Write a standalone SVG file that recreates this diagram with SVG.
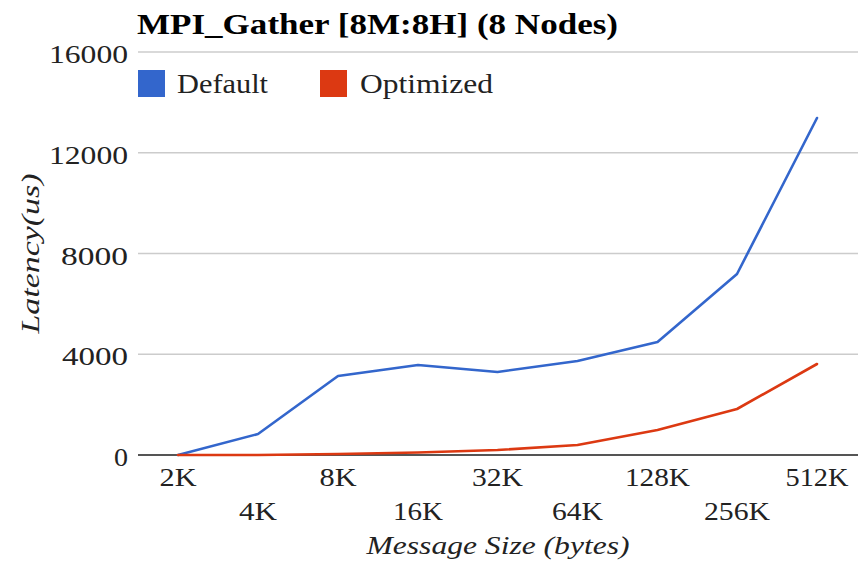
<svg xmlns="http://www.w3.org/2000/svg" width="862" height="562" viewBox="0 0 862 562">
  <style>
    text { font-family: "Liberation Serif", "DejaVu Serif", serif; fill: #222; }
    .title { font-size: 29px; font-weight: bold; fill: #000; }
    .legend { font-size: 27px; }
    .ytick { font-size: 26px; text-anchor: end; }
    .xtick { font-size: 26px; text-anchor: middle; }
    .axis-title { font-size: 26px; font-style: italic; text-anchor: middle; }
    .grid { stroke: #cccccc; stroke-width: 1.5; }
    .baseline { stroke: #555555; stroke-width: 1.8; }
    .series { fill: none; stroke-width: 2.6; stroke-linejoin: round; stroke-linecap: round; }
  </style>

  <rect width="862" height="562" fill="#ffffff"/>

  <!-- Chart title -->
  <g id="title">
    <text class="title" x="137" y="34" textLength="481" lengthAdjust="spacingAndGlyphs">MPI_Gather [8M:8H] (8 Nodes)</text>
  </g>

  <!-- Horizontal gridlines, one every 4000 us -->
  <g id="gridlines">
    <line class="grid" x1="138" y1="52" x2="858" y2="52"/>
    <line class="grid" x1="138" y1="152.75" x2="858" y2="152.75"/>
    <line class="grid" x1="138" y1="253.5" x2="858" y2="253.5"/>
    <line class="grid" x1="138" y1="354.25" x2="858" y2="354.25"/>
    <line class="baseline" x1="138" y1="455" x2="858" y2="455"/>
  </g>

  <!-- Vertical axis labels -->
  <g id="y-axis">
    <text class="ytick" x="128" y="63" textLength="79" lengthAdjust="spacingAndGlyphs">16000</text>
    <text class="ytick" x="128" y="164" textLength="79" lengthAdjust="spacingAndGlyphs">12000</text>
    <text class="ytick" x="128" y="265" textLength="67" lengthAdjust="spacingAndGlyphs">8000</text>
    <text class="ytick" x="128" y="365" textLength="66" lengthAdjust="spacingAndGlyphs">4000</text>
    <text class="ytick" x="128" y="466" textLength="14" lengthAdjust="spacingAndGlyphs">0</text>
    <text class="axis-title" transform="translate(39 253.5) rotate(-90)" textLength="160" lengthAdjust="spacingAndGlyphs">Latency(us)</text>
  </g>

  <!-- Horizontal axis labels, staggered on two rows -->
  <g id="x-axis">
    <text class="xtick" x="178" y="486" textLength="37" lengthAdjust="spacingAndGlyphs">2K</text>
    <text class="xtick" x="258" y="520" textLength="38" lengthAdjust="spacingAndGlyphs">4K</text>
    <text class="xtick" x="338" y="486" textLength="37" lengthAdjust="spacingAndGlyphs">8K</text>
    <text class="xtick" x="418" y="520" textLength="50" lengthAdjust="spacingAndGlyphs">16K</text>
    <text class="xtick" x="497.5" y="486" textLength="51" lengthAdjust="spacingAndGlyphs">32K</text>
    <text class="xtick" x="577.5" y="520" textLength="51" lengthAdjust="spacingAndGlyphs">64K</text>
    <text class="xtick" x="657.5" y="486" textLength="65" lengthAdjust="spacingAndGlyphs">128K</text>
    <text class="xtick" x="737" y="520" textLength="66" lengthAdjust="spacingAndGlyphs">256K</text>
    <text class="xtick" x="817" y="486" textLength="63" lengthAdjust="spacingAndGlyphs">512K</text>
    <text class="axis-title" x="498" y="554" textLength="263" lengthAdjust="spacingAndGlyphs">Message Size (bytes)</text>
  </g>

  <!-- Legend -->
  <g id="legend">
    <g id="legend-default">
      <rect x="138" y="70" width="27" height="27" fill="#3366cc"/>
      <text class="legend" x="177" y="93" textLength="91" lengthAdjust="spacingAndGlyphs">Default</text>
    </g>
    <g id="legend-optimized">
      <rect x="320" y="70" width="27" height="27" fill="#dc3912"/>
      <text class="legend" x="360" y="93" textLength="133" lengthAdjust="spacingAndGlyphs">Optimized</text>
    </g>
  </g>

  <!-- Data series -->
  <g id="series">
    <polyline id="series-default" class="series" stroke="#3366cc"
      points="178,455 258,434 338,376 418,365 497.5,372 577.5,361 657.5,342 737,274 817,118"/>
    <polyline id="series-optimized" class="series" stroke="#dc3912"
      points="178,455 258,455 338,454 418,452.5 497.5,450 577.5,445 657.5,430 737,409 817,364"/>
  </g>
</svg>
